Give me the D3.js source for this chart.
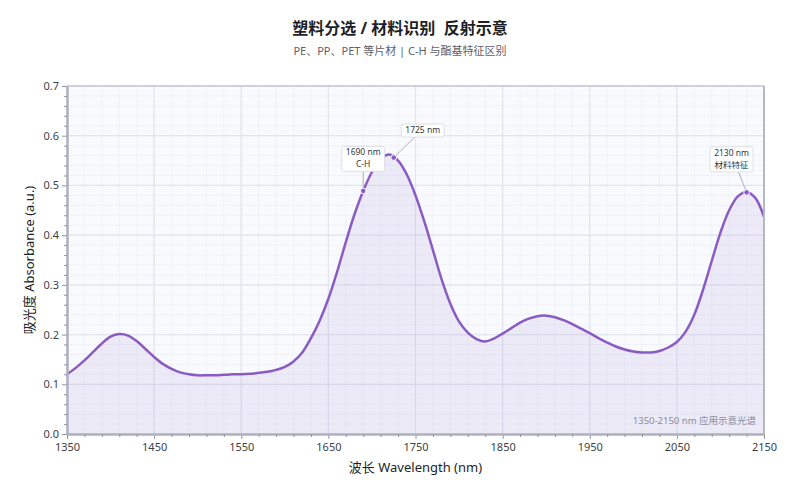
<!DOCTYPE html>
<html>
<head>
<meta charset="utf-8">
<script src="https://cdn.jsdelivr.net/npm/d3@7"></script>
<style>
  body { margin: 0; background: #fff; }
  text { font-family: "Noto Sans", "Noto Sans CJK SC", sans-serif; }
</style>
</head>
<body>
<div id="chart"></div>
<script>
// wavelength (nm) and absorbance
const wavelengths = [
  1350, 1360, 1370, 1380, 1390, 1400, 1410, 1420, 1430, 1440,
  1450, 1460, 1470, 1480, 1490, 1500, 1510, 1520, 1530, 1540,
  1550, 1560, 1570, 1580, 1590, 1600, 1610, 1620, 1630, 1640,
  1650, 1660, 1670, 1680, 1690, 1700, 1710, 1720, 1730, 1740,
  1750, 1760, 1770, 1780, 1790, 1800, 1810, 1820, 1830, 1840,
  1850, 1860, 1870, 1880, 1890, 1900, 1910, 1920, 1930, 1940,
  1950, 1960, 1970, 1980, 1990, 2000, 2010, 2020, 2030, 2040,
  2050, 2060, 2070, 2080, 2090, 2100, 2110, 2120, 2130, 2140, 2150
];
const absorbance = [
  0.120, 0.133, 0.148, 0.165, 0.182, 0.196, 0.201, 0.198, 0.187, 0.171,
  0.155, 0.141, 0.131, 0.124, 0.120, 0.118, 0.118, 0.118, 0.119, 0.120,
  0.120, 0.121, 0.123, 0.125, 0.129, 0.135, 0.146, 0.164, 0.193, 0.228,
  0.272, 0.326, 0.386, 0.442, 0.489, 0.527, 0.553, 0.562, 0.550, 0.522,
  0.480, 0.428, 0.370, 0.311, 0.262, 0.226, 0.204, 0.191, 0.186, 0.192,
  0.202, 0.213, 0.224, 0.232, 0.237, 0.238, 0.235, 0.229, 0.221, 0.212,
  0.203, 0.193, 0.184, 0.176, 0.170, 0.166, 0.164, 0.164, 0.167, 0.174,
  0.185, 0.206, 0.240, 0.290, 0.348, 0.405, 0.450, 0.478, 0.487, 0.475, 0.437
];

// annotated points
const markWl = [1690, 1725, 2130];
const markAbs = [0.489, 0.556, 0.486];
const markLabels = [["1690 nm", "C-H"], ["1725 nm"], ["2130 nm", "材料特征"]];
const markOffsets = [[0, -32], [29, -27], [-15, -33]]; // label box centre vs point

const xTicks = [1350, 1450, 1550, 1650, 1750, 1850, 1950, 2050, 2150];
const yTicks = [0, 0.1, 0.2, 0.3, 0.4, 0.5, 0.6, 0.7];

const width = 800, height = 500;
const margin = { top: 86, right: 36, bottom: 66, left: 67 };
const iw = width - margin.left - margin.right;
const ih = height - margin.top - margin.bottom;

const svg = d3.select('#chart').append('svg')
  .attr('width', width)
  .attr('height', height);

const x = d3.scaleLinear().domain([1350, 2150]).range([0, iw]);
const y = d3.scaleLinear().domain([0, 0.7]).range([ih, 0]);

const g = svg.append('g').attr('transform', `translate(${margin.left},${margin.top})`);

// plot background
g.append('rect').attr('width', iw).attr('height', ih).attr('fill', '#f9fafe');

// minor grid
const minorX = d3.range(1350, 2151, 20);
const minorY = d3.range(0, 0.7001, 0.02);
g.append('g').selectAll('line').data(minorX).enter().append('line')
  .attr('x1', d => x(d)).attr('x2', d => x(d)).attr('y1', 0).attr('y2', ih)
  .attr('stroke', '#eef0f6').attr('stroke-width', 0.8);
g.append('g').selectAll('line').data(minorY).enter().append('line')
  .attr('y1', d => y(d)).attr('y2', d => y(d)).attr('x1', 0).attr('x2', iw)
  .attr('stroke', '#eef0f6').attr('stroke-width', 0.8);

// major grid
g.append('g').selectAll('line').data(xTicks).enter().append('line')
  .attr('x1', d => x(d)).attr('x2', d => x(d)).attr('y1', 0).attr('y2', ih)
  .attr('stroke', '#e2e4ee').attr('stroke-width', 1.2);
g.append('g').selectAll('line').data(yTicks).enter().append('line')
  .attr('y1', d => y(d)).attr('y2', d => y(d)).attr('x1', 0).attr('x2', iw)
  .attr('stroke', '#e2e4ee').attr('stroke-width', 1.2);

const data = wavelengths.map((w, i) => ({ w, a: absorbance[i] }));

const area = d3.area()
  .x(d => x(d.w)).y0(y(0)).y1(d => y(d.a))
  .curve(d3.curveCatmullRom.alpha(0.5));
const line = d3.line()
  .x(d => x(d.w)).y(d => y(d.a))
  .curve(d3.curveCatmullRom.alpha(0.5));

g.append('path').datum(data).attr('d', area)
  .attr('fill', '#8e5ec4').attr('fill-opacity', 0.1);
g.append('path').datum(data).attr('d', line)
  .attr('fill', 'none').attr('stroke', '#8a5cc2').attr('stroke-width', 2.5)
  .attr('stroke-linejoin', 'round');

// frame: top + right
g.append('line').attr('x1', 0).attr('x2', iw).attr('y1', 0).attr('y2', 0)
  .attr('stroke', '#b4b8c4').attr('stroke-width', 1.2);
g.append('line').attr('x1', iw).attr('x2', iw).attr('y1', 0).attr('y2', ih)
  .attr('stroke', '#b4b8c4').attr('stroke-width', 2);

// axes
const xAxis = g.append('g').attr('transform', `translate(0,${ih})`)
  .call(d3.axisBottom(x).tickValues(xTicks).tickFormat(d3.format('d')).tickSize(5).tickSizeOuter(0));
const xMinor = g.append('g').attr('transform', `translate(0,${ih})`)
  .call(d3.axisBottom(x).tickValues(minorX.filter(d => !xTicks.includes(d))).tickFormat('').tickSize(3).tickSizeOuter(0));
const yAxis = g.append('g')
  .call(d3.axisLeft(y).tickValues(yTicks).tickFormat(d3.format('.1f')).tickSize(5).tickSizeOuter(0));
const yMinor = g.append('g')
  .call(d3.axisLeft(y).tickValues(minorY.filter((d, i) => i % 5 !== 0)).tickFormat('').tickSize(3).tickSizeOuter(0));

[xAxis, xMinor, yAxis, yMinor].forEach(a => {
  a.select('.domain').attr('stroke', '#aeb2bf').attr('stroke-width', 2);
  a.selectAll('.tick line').attr('stroke', '#8f94a0');
  a.selectAll('.tick text').attr('fill', '#3c3f46').style('font-size', '11px');
});
xAxis.selectAll('.tick text').attr('dy', '0.85em');

// annotations
markWl.forEach((w, i) => {
  const px = x(w), py = y(markAbs[i]);
  const [dx, dy] = markOffsets[i];
  const lines = markLabels[i];
  const lh = 12;
  const bh = lines.length * lh + 1;
  const cx = px + dx, cy = py + dy;
  const ag = g.append('g');
  // leader line from the box bottom to the point
  const by = cy + bh / 2;
  const bx = dx === 0 ? cx : cx + (dx > 0 ? -8 : 7);
  ag.append('line').attr('x1', bx).attr('y1', by).attr('x2', px).attr('y2', py)
    .attr('stroke', '#9a9ea8').attr('stroke-width', 0.8);
  const box = ag.append('rect').attr('rx', 2)
    .attr('fill', '#fff').attr('stroke', '#d6d8de').attr('stroke-width', 0.8);
  const t = ag.append('text').attr('text-anchor', 'middle')
    .attr('fill', '#33363d').style('font-size', '8.5px');
  lines.forEach((s, k) => {
    t.append('tspan').attr('x', cx)
      .attr('y', cy - bh / 2 + lh * k + 9).text(s);
  });
  const tw = t.node().getBBox().width;
  box.attr('x', cx - tw / 2 - 4).attr('y', cy - bh / 2).attr('width', tw + 8).attr('height', bh);
  ag.append('circle').attr('cx', px).attr('cy', py).attr('r', 2.8)
    .attr('fill', '#8a5cc2').attr('stroke', '#fff').attr('stroke-width', 1);
});

// note
g.append('text').attr('x', iw - 8).attr('y', ih - 10).attr('text-anchor', 'end')
  .attr('fill', '#8a8e99').style('font-size', '9.5px').text('1350-2150 nm 应用示意光谱');

// titles
svg.append('text').attr('x', width / 2).attr('y', 34).attr('text-anchor', 'middle')
  .attr('fill', '#1c1f26').style('font-size', '16px').style('font-weight', 'bold')
  .style('white-space', 'pre')
  .text('塑料分选 / 材料识别  反射示意');
svg.append('text').attr('x', width / 2).attr('y', 55).attr('text-anchor', 'middle')
  .attr('fill', '#5d616b').style('font-size', '11px')
  .text('PE、PP、PET 等片材 | C-H 与酯基特征区别');

svg.append('text').attr('x', margin.left + iw / 2).attr('y', 472).attr('text-anchor', 'middle')
  .attr('fill', '#1c1f26').style('font-size', '13px').text('波长 Wavelength (nm)');
svg.append('text')
  .attr('transform', `translate(34,${margin.top + ih / 2}) rotate(-90)`)
  .attr('text-anchor', 'middle')
  .attr('fill', '#1c1f26').style('font-size', '13px').text('吸光度 Absorbance (a.u.)');
</script>
</body>
</html>
